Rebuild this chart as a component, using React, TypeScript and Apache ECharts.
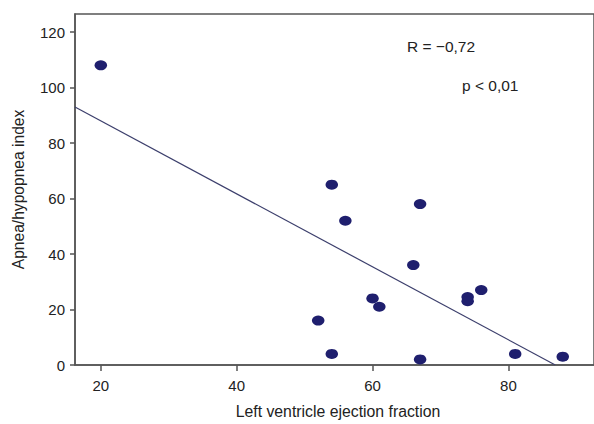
import React, { useEffect, useRef } from "react";
import * as echarts from "echarts";

const ejectionFraction = [20, 54, 67, 56, 66, 76, 74, 74, 60, 61, 52, 54, 67, 81, 88];
const ahiValues = [108, 65, 58, 52, 36, 27, 24.5, 23, 24, 21, 16, 4, 2, 4, 3];
const fitLine: [number, number][] = [
  [16.2, 93],
  [86.9, 0],
];
const xTicks = [20, 40, 60, 80];
const yTicks = [0, 20, 40, 60, 80, 100, 120];
const annotations = ["R = −0,72", "p < 0,01"];

export default function App() {
  const ref = useRef<HTMLDivElement>(null);
  useEffect(() => {
    if (!ref.current) return;
    const chart = echarts.init(ref.current, undefined, { renderer: "svg" });
    const font = "Liberation Sans, Arial, sans-serif";
    const points = ejectionFraction.map((x, i) => [x, ahiValues[i]]);
    chart.setOption({
      animation: false,
      backgroundColor: "#ffffff",
      grid: {
        left: 75,
        top: 14,
        right: -3,
        bottom: 53.3,
        show: true,
        borderColor: "#555555",
        borderWidth: 1.5,
        backgroundColor: "transparent",
      },
      xAxis: {
        type: "value",
        min: 16.2,
        max: 92.6,
        name: "Left ventricle ejection fraction",
        nameLocation: "middle",
        nameGap: 38,
        nameTextStyle: { fontFamily: font, fontSize: 15.8, color: "#222", padding: [0, 0, 0, 7] },
        axisLine: { show: true, lineStyle: { color: "#555", width: 1.5 } },
        axisTick: { show: true, length: 6, customValues: xTicks, lineStyle: { color: "#555", width: 1.5 } },
        axisLabel: { customValues: xTicks, margin: 13, fontFamily: font, fontSize: 15, color: "#222" },
        splitLine: { show: false },
      },
      yAxis: {
        type: "value",
        min: 0,
        max: 126.5,
        name: "Apnea/hypopnea index",
        nameLocation: "middle",
        nameGap: 49,
        nameTextStyle: { fontFamily: font, fontSize: 15.6, color: "#222" },
        axisLine: { show: true, lineStyle: { color: "#555", width: 1.5 } },
        axisTick: { show: true, length: 5, customValues: yTicks, lineStyle: { color: "#555", width: 1.5 } },
        axisLabel: { customValues: yTicks, margin: 10, fontFamily: font, fontSize: 15, color: "#222" },
        splitLine: { show: false },
      },
      graphic: [
        {
          type: "text",
          left: 407,
          top: 38,
          style: { text: annotations[0], font: `15.5px ${font}`, fill: "#222" },
        },
        {
          type: "text",
          left: 462,
          top: 77,
          style: { text: annotations[1], font: `15.5px ${font}`, fill: "#222" },
        },
      ],
      series: [
        {
          type: "line",
          data: fitLine,
          showSymbol: false,
          symbol: "none",
          lineStyle: { color: "#3c3f6c", width: 1.2 },
          z: 2,
        },
        {
          type: "scatter",
          data: points,
          symbol: "circle",
          symbolSize: [12.5, 10],
          itemStyle: { color: "#1f1f6e", opacity: 1 },
          z: 3,
        },
      ],
    });
    return () => chart.dispose();
  }, []);
  return (
    <div
      ref={ref}
      style={{ position: "fixed", left: 0, top: 0, width: 594, height: 424, background: "#fff" }}
    />
  );
}
